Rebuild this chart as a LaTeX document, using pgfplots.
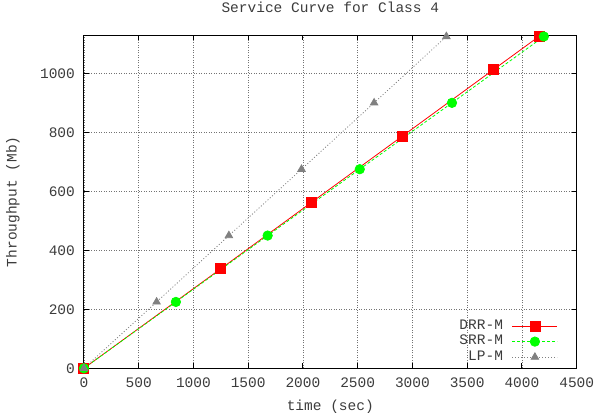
\documentclass[border=0pt]{standalone}
\usepackage{pgfplots}
\pgfplotsset{compat=1.18}
\usepackage{fontspec}
\setmainfont{Liberation Mono}
\definecolor{txt}{RGB}{60,60,60}
\definecolor{gpgreen}{RGB}{0,255,0}
\definecolor{gpgray}{RGB}{128,128,128}
\begin{document}
\begin{tikzpicture}
\useasboundingbox (-83.9pt,-49.7pt) rectangle (515.1pt,368.3pt);
\begin{axis}[
  scale only axis,
  width=492.8pt, height=333pt,
  anchor=south west, at={(0pt,0pt)},
  xmin=0, xmax=4500, ymin=0, ymax=1129,
  xtick={0,500,...,4500}, ytick={0,200,...,1000},
  /pgf/number format/assume math mode=true,
  /pgf/number format/set thousands separator={},
  font=\fontsize{14.5}{16}\selectfont,
  every tick label/.append style={text=txt},
  xticklabel style={yshift=-6pt},
  yticklabel style={xshift=-5.5pt},
  axis line style={black, line width=1.2pt},
  tick style={black, line width=1pt},
  major tick length=5pt,
  tick align=inside,
  grid=major,
  major grid style={black!55, line width=0.6pt, dash pattern=on 1pt off 1.5pt},
  title={Service Curve for Class 4},
  title style={at={(axis description cs:0.5,1)}, anchor=base, yshift=17pt, text=txt},
  xlabel={time (sec)},
  xlabel style={at={(axis description cs:0.5,-0.1153)}, anchor=center, text=txt},
  ylabel={Throughput (Mb)},
  ylabel style={at={(axis description cs:-0.144,0.5)}, anchor=center, rotate=0, text=txt},
  legend plot pos=right,
  legend cell align=right,
  legend image code/.code={\draw[mark repeat=2,mark phase=2] plot coordinates {(0pt,0pt)(22.5pt,0pt)(45pt,0pt)};},
  legend style={at={(rel axis cs:1,0)}, xshift=-18.7pt, yshift=5pt, anchor=south east,
    draw=none, fill=none, inner sep=0pt, row sep=3.5pt, column sep=9pt,
    nodes={inner sep=0pt, text height=9pt, text depth=3pt, text=txt},
    font=\fontsize{14.5}{16}\selectfont},
]
\addplot[red, line width=0.8pt, mark=square*, mark size=5pt, mark options={solid, fill=red, draw=red}]
  coordinates {(0,0) (1250,337.5) (2078,562.5) (2909,787.5) (3739,1012.5) (4155,1125)};
\addlegendentry{DRR-M}
\addplot[gpgreen, line width=0.8pt, dash pattern=on 3pt off 2pt, mark=*, mark size=4.7pt, mark options={solid, fill=gpgreen, draw=gpgreen}]
  coordinates {(0,0) (840,225) (1678,450) (2519,675) (3361,900) (4200,1125)};
\addlegendentry{SRR-M}
\addplot[gpgray, line width=0.8pt, dash pattern=on 1pt off 2pt, mark=triangle*, mark size=4.3pt, mark options={solid, fill=gpgray, draw=gpgray}]
  coordinates {(0,0) (664,225) (1324,450) (1987,675) (2650,900) (3310,1125)};
\addlegendentry{LP-M}
\end{axis}
\end{tikzpicture}
\end{document}
